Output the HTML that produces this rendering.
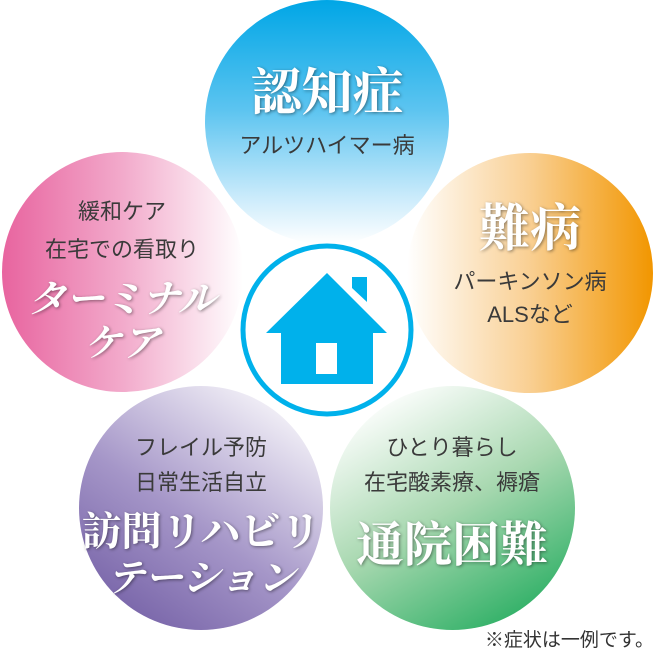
<!DOCTYPE html>
<html><head><meta charset="utf-8"><style>
html,body{margin:0;padding:0;background:#fff;}
body{width:654px;height:656px;position:relative;overflow:hidden;font-family:"Liberation Sans","Noto Sans CJK JP",sans-serif;}
.c{position:absolute;border-radius:50%;}
.t{position:absolute;text-align:center;white-space:nowrap;transform:translateX(-50%);line-height:1;}
.s{color:#3a3a3a;font-size:22px;}
.b{color:#fff;font-family:"Liberation Serif","Noto Serif CJK SC",serif;font-weight:bold;text-shadow:1px 1px 3px rgba(0,0,0,.45);}
</style></head><body>
<div class="c" style="left:205px;top:0;width:244px;height:244px;background:linear-gradient(180deg,#00a6e6 0%,#5cc4f0 45%,#c8eafb 80%,#ffffff 100%);"></div>
<div class="c" style="left:2px;top:152px;width:241px;height:240px;background:linear-gradient(90deg,#e8649f 0%,#f2aacb 50%,#ffffff 100%);"></div>
<div class="c" style="left:407px;top:153px;width:246px;height:240px;background:linear-gradient(90deg,#ffffff 0%,#f9cf92 50%,#f29600 100%);"></div>
<div class="c" style="left:79px;top:386px;width:244px;height:244px;background:linear-gradient(35deg,#6a559f 0%,#a596c8 45%,#ffffff 95%);"></div>
<div class="c" style="left:330px;top:386px;width:245px;height:244px;background:linear-gradient(150deg,#ffffff 10%,#a8d8b0 50%,#0ea552 100%);"></div>
<svg style="position:absolute;left:0;top:0" width="654" height="656">
<circle cx="327" cy="330" r="84" fill="#fff" stroke="#00b1eb" stroke-width="5"/>
<polygon points="327,273 387,333 373,333 373,384 281,384 281,333 266,333" fill="#00b1eb"/>
<polygon points="352,277 367,277 367,302 352,288" fill="#00b1eb"/>
<rect x="316" y="343" width="21" height="31" fill="#fff"/>
</svg>
<div class="t b" style="left:327px;top:69px;font-size:51px;">認知症</div>
<div class="t s" style="left:327px;top:135px;">アルツハイマー病</div>
<div class="t b" style="left:530px;top:205px;font-size:51px;">難病</div>
<div class="t s" style="left:530px;top:271px;">パーキンソン病</div>
<div class="t s" style="left:530px;top:304px;">ALSなど</div>
<div class="t s" style="left:122px;top:201px;">緩和ケア</div>
<div class="t s" style="left:122px;top:239px;">在宅での看取り</div>
<div class="t b" style="left:122px;top:281px;font-size:38px;font-style:italic;">ターミナル</div>
<div class="t b" style="left:122px;top:325px;font-size:38px;font-style:italic;">ケア</div>
<div class="t s" style="left:201px;top:437px;">フレイル予防</div>
<div class="t s" style="left:201px;top:472px;">日常生活自立</div>
<div class="t b" style="left:201px;top:512px;font-size:40px;">訪問リハビリ</div>
<div class="t b" style="left:201px;top:560px;font-size:38px;font-style:italic;">テーション</div>
<div class="t s" style="left:452px;top:437px;">ひとり暮らし</div>
<div class="t s" style="left:452px;top:472px;">在宅酸素療、褥瘡</div>
<div class="t b" style="left:452px;top:522px;font-size:48px;">通院困難</div>
<div style="position:absolute;right:0;top:631px;font-size:19px;color:#333;line-height:1;white-space:nowrap;">※症状は一例です。</div>
</body></html>
